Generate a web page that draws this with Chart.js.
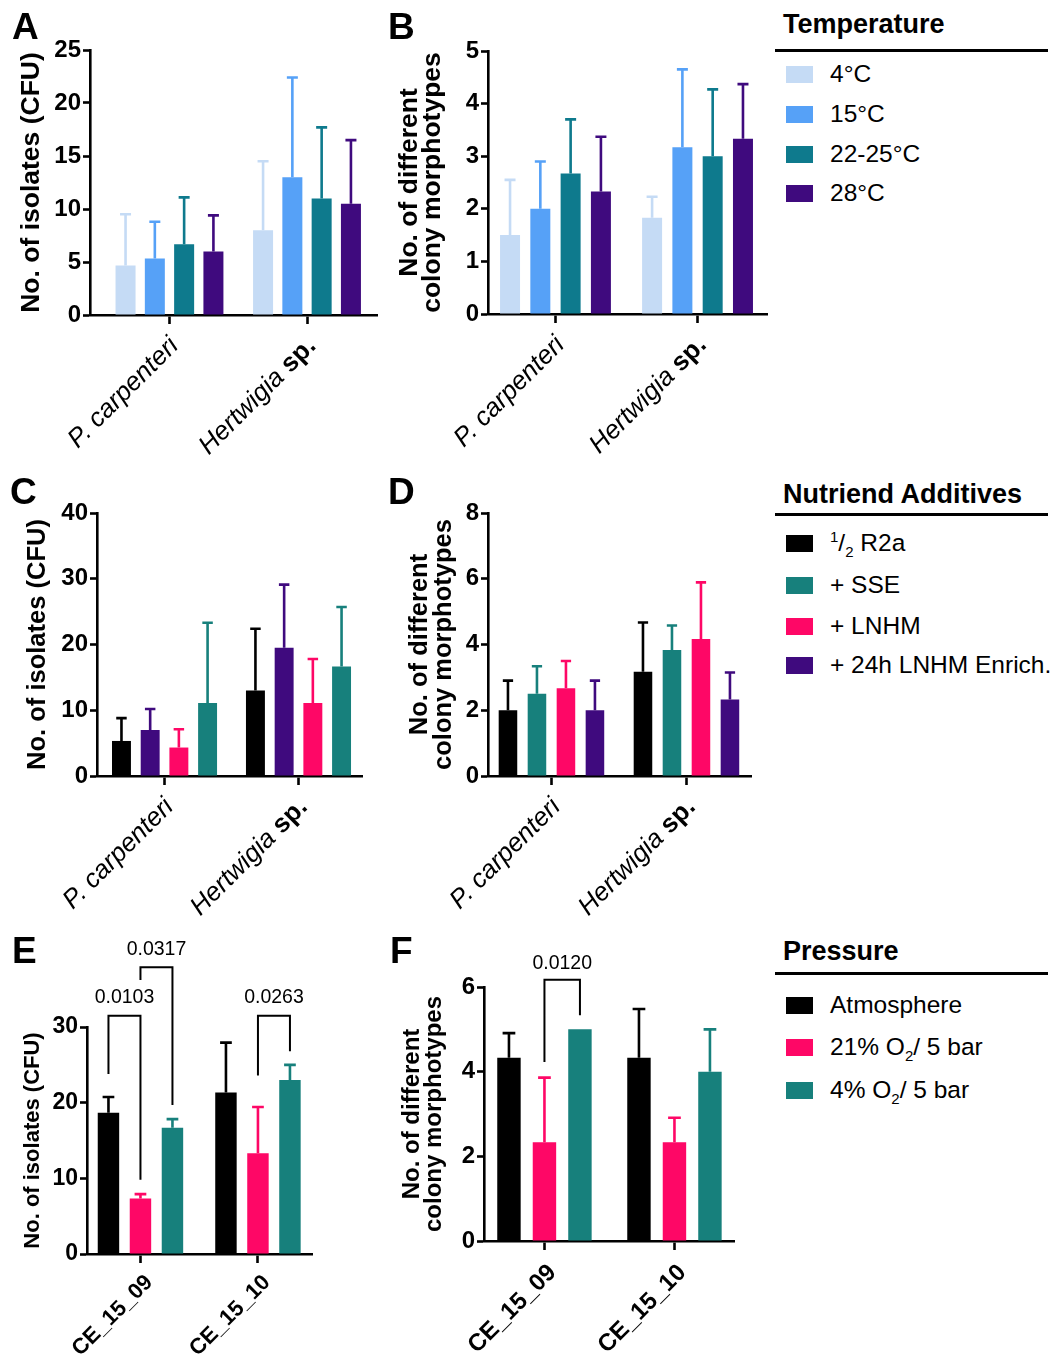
<!DOCTYPE html>
<html>
<head>
<meta charset="utf-8">
<script src="https://cdn.jsdelivr.net/npm/chart.js@4.4.1/dist/chart.umd.min.js"></script>
<style>
  body { margin: 0; background: #fff; font-family: 'Liberation Sans', Arial, sans-serif; color: #000; }
  #fig { position: relative; width: 1056px; height: 1355px; overflow: hidden; }
  canvas { position: absolute; }
  .letter { position: absolute; font-weight: bold; font-size: 37px; line-height: 37px; }
  .lg-title { position: absolute; left: 783px; font-weight: bold; font-size: 27px; line-height: 27px; white-space: nowrap; }
  .lg-rule { position: absolute; left: 775px; width: 273px; height: 3px; background: #000; }
  .lg-row { position: absolute; left: 786px; height: 30px; display: flex; align-items: center; font-size: 24.5px; white-space: nowrap; }
  .lg-sw { width: 27px; height: 17px; margin-right: 17px; flex: none; }
  .lg-row sup, .lg-row sub { font-size: 15px; line-height: 0; }
</style>
</head>
<body>
<div id="fig">
  <canvas id="cA" width="380" height="460" style="left:0;top:0"></canvas>
  <canvas id="cB" width="390" height="460" style="left:380px;top:0"></canvas>
  <canvas id="cC" width="380" height="455" style="left:0;top:465px"></canvas>
  <canvas id="cD" width="390" height="455" style="left:380px;top:465px"></canvas>
  <canvas id="cE" width="380" height="435" style="left:0;top:920px"></canvas>
  <canvas id="cF" width="390" height="435" style="left:380px;top:920px"></canvas>

  <div class="letter" style="left:12px;top:8px">A</div>
  <div class="letter" style="left:388px;top:8px">B</div>
  <div class="letter" style="left:10px;top:473px">C</div>
  <div class="letter" style="left:388px;top:473px">D</div>
  <div class="letter" style="left:12px;top:932px">E</div>
  <div class="letter" style="left:390px;top:932px">F</div>
</div>

<script>
// categories
const speciesCats = ['P. carpenteri', 'Hertwigia sp.'];
const cultureCats = ['CE_15_09', 'CE_15_10'];

// colours
const cT4 = '#c5dbf5';
const cT15 = '#56a1f7';
const cT22 = '#0e7a8d';
const cT28 = '#3f0a7e';
const cR2a = '#000000';
const cSSE = '#17807c';
const cLNHM = '#fe0766';
const cEnrich = '#3f0a7e';

// legends
const tempLabels = ['4°C', '15°C', '22-25°C', '28°C'];
const nutrLabels = ['<sup>1</sup>/<sub>2</sub> R2a', '+ SSE', '+ LNHM', '+ 24h LNHM Enrich.'];
const pressLabels = ['Atmosphere', '21% O<sub>2</sub>/ 5 bar', '4% O<sub>2</sub>/ 5 bar'];

// A: isolates (CFU) per temperature, mean / SD
const isoT4 = [4.67, 8.0],   isoT4Sd = [4.83, 6.5];
const isoT15 = [5.33, 13.0], isoT15Sd = [3.47, 9.4];
const isoT22 = [6.67, 11.0], isoT22Sd = [4.43, 6.7];
const isoT28 = [6.0, 10.5],  isoT28Sd = [3.4, 6.0];

// B: colony morphotypes per temperature
const morT4 = [1.5, 1.83],  morT4Sd = [1.05, 0.4];
const morT15 = [2.0, 3.17], morT15Sd = [0.9, 1.48];
const morT22 = [2.67, 3.0], morT22Sd = [1.03, 1.27];
const morT28 = [2.33, 3.33], morT28Sd = [1.04, 1.04];

// C: isolates per nutrient additive
const isoR2a = [5.33, 13.0],    isoR2aSd = [3.47, 9.4];
const isoEnrich = [7.0, 19.5],  isoEnrichSd = [3.2, 9.6];
const isoLNHM = [4.33, 11.1],   isoLNHMSd = [2.77, 6.7];
const isoSSE = [11.1, 16.67],   isoSSESd = [12.2, 9.03];

// D: colony morphotypes per nutrient additive
const morR2a = [2.0, 3.17],    morR2aSd = [0.9, 1.5];
const morSSE = [2.5, 3.83],    morSSESd = [0.84, 0.75];
const morLNHM = [2.67, 4.17],  morLNHMSd = [0.83, 1.72];
const morEnrich = [2.0, 2.33], morEnrichSd = [0.9, 0.82];

// E: isolates per pressure condition
const isoAtm = [18.67, 21.33], isoAtmSd = [2.08, 6.6];
const isoO21 = [7.33, 13.33],  isoO21Sd = [0.58, 6.1];
const isoO4 = [16.67, 23.0],   isoO4Sd = [1.15, 2.0];

// F: colony morphotypes per pressure condition
const morAtm = [4.33, 4.33], morAtmSd = [0.58, 1.15];
const morO21 = [2.33, 2.33], morO21Sd = [1.53, 0.58];
const morO4 = [5.0, 4.0],    morO4Sd = [0, 1.0];

// y tick labels
const yTicksA = [0, 5, 10, 15, 20, 25];
const yTicksB = [0, 1, 2, 3, 4, 5];
const yTicksC = [0, 10, 20, 30, 40];
const yTicksD = [0, 2, 4, 6, 8];
const yTicksE = [0, 10, 20, 30];
const yTicksF = [0, 2, 4, 6];

// significance brackets (dataset, category) pairs, values in axis units
const pvalsE = [
  { p: '0.0103', from: [0, 0], to: [1, 0], top: 31.5, legs: [23.8, 9.8], labelAt: 33.9 },
  { p: '0.0317', from: [1, 0], to: [2, 0], top: 37.9, legs: [36.2, 19.7], labelAt: 40.2 },
  { p: '0.0263', from: [1, 1], to: [2, 1], top: 31.5, legs: [23.6, 26.8], labelAt: 33.9 }
];
const pvalsF = [
  { p: '0.0120', from: [1, 0], to: [2, 0], top: 6.17, legs: [4.23, 5.33], labelAt: 6.55 }
];

const FONT = "'Liberation Sans', Arial, sans-serif";
Chart.defaults.font.family = FONT;
Chart.defaults.color = '#000';

// upper-only error whiskers in the bar colour
const errorBars = {
  id: 'errorBars',
  afterDatasetsDraw(chart) {
    const ctx = chart.ctx;
    const y = chart.scales.y;
    chart.data.datasets.forEach((ds, i) => {
      chart.getDatasetMeta(i).data.forEach((bar, j) => {
        const sd = ds.sd[j];
        if (!sd) return;
        const top = y.getPixelForValue(ds.data[j].y + sd);
        const half = bar.width / 4 + 0.5;
        ctx.save();
        ctx.strokeStyle = ds.backgroundColor;
        ctx.lineWidth = 2.6;
        ctx.beginPath();
        ctx.moveTo(bar.x, bar.y);
        ctx.lineTo(bar.x, top);
        ctx.moveTo(bar.x - half, top);
        ctx.lineTo(bar.x + half, top);
        ctx.stroke();
        ctx.restore();
      });
    });
  }
};

const brackets = {
  id: 'brackets',
  afterDraw(chart, args, opts) {
    const ctx = chart.ctx;
    const y = chart.scales.y;
    (opts.items || []).forEach(b => {
      const xa = chart.getDatasetMeta(b.from[0]).data[b.from[1]].x;
      const xb = chart.getDatasetMeta(b.to[0]).data[b.to[1]].x;
      const yt = y.getPixelForValue(b.top);
      ctx.save();
      ctx.strokeStyle = '#000';
      ctx.lineWidth = 2;
      ctx.beginPath();
      ctx.moveTo(xa, y.getPixelForValue(b.legs[0]));
      ctx.lineTo(xa, yt);
      ctx.lineTo(xb, yt);
      ctx.lineTo(xb, y.getPixelForValue(b.legs[1]));
      ctx.stroke();
      ctx.font = '19.5px ' + FONT;
      ctx.fillStyle = '#000';
      ctx.textAlign = 'center';
      ctx.textBaseline = 'middle';
      ctx.fillText(b.p, (xa + xb) / 2, y.getPixelForValue(b.labelAt));
      ctx.restore();
    });
  }
};

// rotated category labels, genus in italics and "sp." in bold
function labelParts(text, style, size) {
  if (style === 'bold') return [{ text, font: 'bold ' + size + 'px ' + FONT }];
  if (text.endsWith(' sp.')) {
    return [
      { text: text.slice(0, -4), font: 'italic ' + size + 'px ' + FONT },
      { text: ' sp.', font: 'bold ' + size + 'px ' + FONT }
    ];
  }
  return [{ text, font: 'italic ' + size + 'px ' + FONT }];
}

const catLabels = {
  id: 'catLabels',
  afterDraw(chart, args, o) {
    const ctx = chart.ctx;
    const xs = chart.scales.x;
    const bottom = chart.chartArea.bottom;
    o.labels.forEach((lab, i) => {
      const parts = labelParts(lab, o.style, o.size);
      ctx.save();
      ctx.translate(xs.getPixelForValue(i + 1) + o.dx, bottom + o.dy);
      ctx.rotate(-Math.PI / 4);
      ctx.textBaseline = 'middle';
      ctx.textAlign = 'left';
      ctx.fillStyle = '#000';
      let w = 0;
      parts.forEach(p => { ctx.font = p.font; p.w = ctx.measureText(p.text).width; w += p.w; });
      let x = -w;
      parts.forEach(p => { ctx.font = p.font; ctx.fillText(p.text, x, 0); x += p.w; });
      ctx.restore();
    });
  }
};

function makePanel(id, p) {
  const canvas = document.getElementById(id);
  const W = canvas.width, H = canvas.height;
  const datasets = p.series.map(s => ({
    data: s.values.map((v, j) => ({ x: j + 1, y: v })),
    sd: s.sd,
    backgroundColor: s.color,
    borderWidth: 0,
    barPercentage: p.barPct,
    categoryPercentage: p.catPct
  }));
  return new Chart(canvas, {
    type: 'bar',
    data: { datasets },
    options: {
      responsive: false,
      animation: false,
      events: [],
      layout: { padding: { top: p.area.top, right: W - p.area.right, left: 0, bottom: 0 } },
      plugins: {
        legend: { display: false },
        tooltip: { enabled: false },
        brackets: { items: p.brackets || [] },
        catLabels: { labels: p.cats, style: p.labelStyle, size: p.labelSize, dx: p.labelDx, dy: p.labelDy }
      },
      scales: {
        x: {
          type: 'linear',
          offset: false,
          min: p.xMin,
          max: p.xMax,
          afterBuildTicks: s => { s.ticks = p.cats.map((c, i) => ({ value: i + 1 })); },
          afterFit: s => { s.height = H - p.area.bottom; },
          ticks: { display: false },
          grid: { offset: false, drawOnChartArea: false, drawTicks: true, tickLength: 9, tickWidth: 2.6, tickColor: '#000' },
          border: { display: true, color: '#000', width: 2.6 }
        },
        y: {
          min: 0,
          max: p.yTicks[p.yTicks.length - 1],
          afterBuildTicks: s => { s.ticks = p.yTicks.map(v => ({ value: v })); },
          afterFit: s => { s.width = p.area.left; },
          ticks: { font: { size: p.tickSize, weight: 'bold' }, color: '#000', padding: 2 },
          grid: { drawOnChartArea: false, drawTicks: true, tickLength: 7, tickWidth: 2.6, tickColor: '#000' },
          border: { display: true, color: '#000', width: 2.6 },
          title: {
            display: true,
            text: p.yTitle,
            color: '#000',
            font: { size: p.titleSize, weight: 'bold', lineHeight: p.titleLH + 'px' },
            padding: { top: p.titlePad, bottom: 0 }
          }
        }
      }
    },
    plugins: [errorBars, brackets, catLabels]
  });
}

const isoTitle = 'No. of isolates (CFU)';
const morTitle = ['No. of different', 'colony morphotypes'];

makePanel('cA', {
  cats: speciesCats, labelStyle: 'species', labelSize: 26, labelDx: 5, labelDy: 27,
  area: { left: 90, top: 50, right: 377, bottom: 315 },
  xMin: 0.422, xMax: 2.509, catPct: 0.852, barPct: 0.683,
  yTicks: yTicksA, tickSize: 24,
  yTitle: isoTitle, titleSize: 26.5, titleLH: 27, titlePad: 18.5,
  series: [
    { values: isoT4, sd: isoT4Sd, color: cT4 },
    { values: isoT15, sd: isoT15Sd, color: cT15 },
    { values: isoT22, sd: isoT22Sd, color: cT22 },
    { values: isoT28, sd: isoT28Sd, color: cT28 }
  ]
});

makePanel('cB', {
  cats: speciesCats, labelStyle: 'species', labelSize: 26, labelDx: 5, labelDy: 27,
  area: { left: 108, top: 51, right: 387, bottom: 314 },
  xMin: 0.525, xMax: 2.489, catPct: 0.853, barPct: 0.66,
  yTicks: yTicksB, tickSize: 24,
  yTitle: morTitle, titleSize: 26.5, titleLH: 23, titlePad: 18.5,
  series: [
    { values: morT4, sd: morT4Sd, color: cT4 },
    { values: morT15, sd: morT15Sd, color: cT15 },
    { values: morT22, sd: morT22Sd, color: cT22 },
    { values: morT28, sd: morT28Sd, color: cT28 }
  ]
});

makePanel('cC', {
  cats: speciesCats, labelStyle: 'species', labelSize: 26, labelDx: 5, labelDy: 27,
  area: { left: 97, top: 48, right: 362, bottom: 311 },
  xMin: 0.496, xMax: 2.474, catPct: 0.857, barPct: 0.66,
  yTicks: yTicksC, tickSize: 24,
  yTitle: isoTitle, titleSize: 25.5, titleLH: 27, titlePad: 24.5,
  series: [
    { values: isoR2a, sd: isoR2aSd, color: cR2a },
    { values: isoEnrich, sd: isoEnrichSd, color: cEnrich },
    { values: isoLNHM, sd: isoLNHMSd, color: cLNHM },
    { values: isoSSE, sd: isoSSESd, color: cSSE }
  ]
});

makePanel('cD', {
  cats: speciesCats, labelStyle: 'species', labelSize: 26, labelDx: 5, labelDy: 27,
  area: { left: 108, top: 48, right: 371, bottom: 311 },
  xMin: 0.530, xMax: 2.478, catPct: 0.859, barPct: 0.64,
  yTicks: yTicksD, tickSize: 24,
  yTitle: morTitle, titleSize: 25.5, titleLH: 24, titlePad: 28,
  series: [
    { values: morR2a, sd: morR2aSd, color: cR2a },
    { values: morSSE, sd: morSSESd, color: cSSE },
    { values: morLNHM, sd: morLNHMSd, color: cLNHM },
    { values: morEnrich, sd: morEnrichSd, color: cEnrich }
  ]
});

makePanel('cE', {
  cats: cultureCats, labelStyle: 'bold', labelSize: 22, labelDx: 9, labelDy: 25,
  area: { left: 87, top: 107, right: 312, bottom: 334 },
  xMin: 0.545, xMax: 2.46, catPct: 0.817, barPct: 0.67,
  yTicks: yTicksE, tickSize: 23,
  yTitle: isoTitle, titleSize: 22, titleLH: 23, titlePad: 21.5,
  brackets: pvalsE,
  series: [
    { values: isoAtm, sd: isoAtmSd, color: cR2a },
    { values: isoO21, sd: isoO21Sd, color: cLNHM },
    { values: isoO4, sd: isoO4Sd, color: cSSE }
  ]
});

makePanel('cF', {
  cats: cultureCats, labelStyle: 'bold', labelSize: 24, labelDx: 8, labelDy: 28,
  area: { left: 104, top: 67, right: 354, bottom: 321 },
  xMin: 0.535, xMax: 2.458, catPct: 0.819, barPct: 0.66,
  yTicks: yTicksF, tickSize: 24,
  yTitle: morTitle, titleSize: 24, titleLH: 22, titlePad: 21,
  brackets: pvalsF,
  series: [
    { values: morAtm, sd: morAtmSd, color: cR2a },
    { values: morO21, sd: morO21Sd, color: cLNHM },
    { values: morO4, sd: morO4Sd, color: cSSE }
  ]
});

// legend blocks
function addLegend(title, titleTop, ruleTop, labels, colors, rowCenters) {
  const fig = document.getElementById('fig');
  const t = document.createElement('div');
  t.className = 'lg-title';
  t.style.top = titleTop + 'px';
  t.textContent = title;
  fig.appendChild(t);
  const r = document.createElement('div');
  r.className = 'lg-rule';
  r.style.top = ruleTop + 'px';
  fig.appendChild(r);
  labels.forEach((lab, i) => {
    const row = document.createElement('div');
    row.className = 'lg-row';
    row.style.top = (rowCenters[i] - 15) + 'px';
    row.innerHTML = '<span class="lg-sw" style="background:' + colors[i] + '"></span><span>' + lab + '</span>';
    fig.appendChild(row);
  });
}

addLegend('Temperature', 11, 49, tempLabels, [cT4, cT15, cT22, cT28], [74, 114, 154, 193]);
addLegend('Nutriend Additives', 481, 513, nutrLabels, [cR2a, cSSE, cLNHM, cEnrich], [543, 585, 626, 665]);
addLegend('Pressure', 938, 972, pressLabels, [cR2a, cLNHM, cSSE], [1005, 1047, 1090]);
</script>
</body>
</html>
